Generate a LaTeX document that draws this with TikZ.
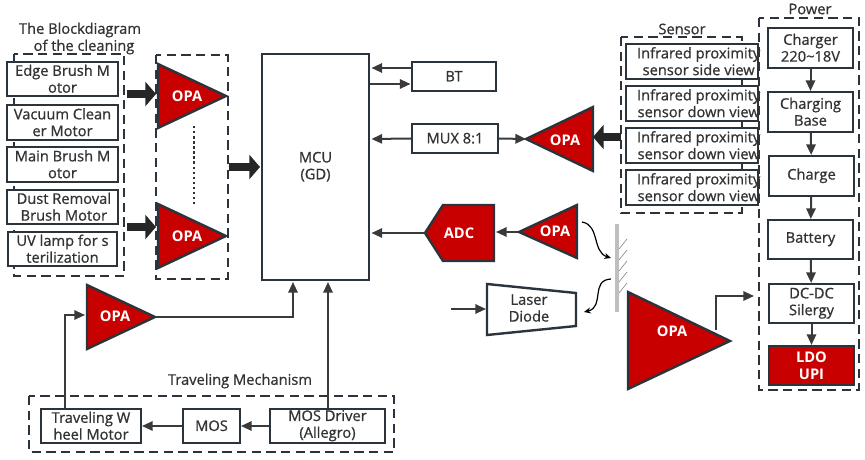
\documentclass[tikz,border=0pt]{standalone}
\usepackage{fontspec}
\setmainfont{Open Sans}
\newfontfamily\semib{Open Sans}[FakeBold=0.8]
\usetikzlibrary{arrows.meta,calc}
\definecolor{ln}{HTML}{2B343C}
\definecolor{txt}{HTML}{333333}
\definecolor{rd}{HTML}{C90000}
\definecolor{arr}{HTML}{3A3A3A}
\tikzset{
 x=0.75pt,y=-0.75pt,
 lbl/.style={font=\semib\fontsize{11}{12.6}\selectfont,text=txt,align=center,inner sep=0pt},
 wlbl/.style={font=\bfseries\fontsize{11}{12.6}\selectfont,text=white,align=center,inner sep=0pt},
 bx/.style={draw=ln,line width=1.8pt,fill=white},
 redshape/.style={draw=ln,line width=1.8pt,fill=rd},
 dash box/.style={draw=ln,line width=1.7pt,dash pattern=on 7pt off 4pt},
 link/.style={draw=arr,line width=1.5pt,-{Triangle[length=8pt,width=7pt]}},
 heavy/.style={draw=black!85,line width=6.5pt,-{Triangle[length=8pt,width=18pt]}},
 curved link/.style={black,line width=0.9pt,-{Stealth[length=5pt,width=4.5pt]}},
}
\newcommand{\pbox}[7][0]{\node[bx,minimum width=#5*0.75pt-#3*0.75pt-1.8pt,minimum height=#6*0.75pt-#4*0.75pt-1.8pt,anchor=center,label={[lbl,xshift=#1pt,yshift=0.2pt]center:{#7}}] (#2) at ({(#3+#5)/2},{(#4+#6)/2}) {};}
\begin{document}
\begin{tikzpicture}
\useasboundingbox (0,0) rectangle (865,460);
% dashed groups
\draw[dash box] (14,54) rectangle (124,276);
\draw[dash box] (156,55) rectangle (228,279);
\draw[dash box] (621,37) rectangle (742,213);
\draw[dash box] (759,18) rectangle (859,390);
\draw[dash box] (29,396) rectangle (394,452);
% titles
\node[lbl] (t1) at (80,30) {The Blockdiagram};
\node[lbl] (t2) at (84,47) {of the cleaning};
\node[lbl] (t3) at (682,29) {Sensor};
\node[lbl] (t4) at (810,9) {Power};
\node[lbl] (t5) at (240,381) {Traveling Mechanism};
% motors
\pbox{m1}{6}{61}{119}{97}{Edge Brush M\\otor}
\pbox{m2}{6}{104}{119}{141}{Vacuum Clean\\er Motor}
\pbox{m3}{6}{146}{119}{183}{Main Brush M\\otor}
\pbox[1]{m4}{6}{189}{119}{225}{Dust Removal\\ Brush Motor}
\pbox{m5}{7}{231}{118}{267}{UV lamp for s\\terilization}
% OPAs
\draw[redshape] (158,64) -- (158,128) -- (226,96) -- cycle;
\node[wlbl] (opa1) at (187,96) {OPA};
\draw[redshape] (158,204) -- (158,268) -- (226,236) -- cycle;
\node[wlbl] (opa2) at (187,236) {OPA};
\draw[ln,line width=1.8pt,dotted] (194,126) -- (194,205);
\coordinate (h1a) at (127,94); \coordinate (h1b) at (156,94);
\coordinate (h2a) at (127,227); \coordinate (h2b) at (156,227);
\coordinate (h3a) at (229,167); \coordinate (h3b) at (260,167);
\draw[heavy] (h1a) -- (h1b);
\draw[heavy] (h2a) -- (h2b);
\draw[heavy] (h3a) -- (h3b);
% MCU
\pbox{mcu}{261}{53}{370}{281}{MCU\\(GD)}
\pbox{bt}{411}{61}{497}{92}{BT}
\pbox{mux}{411}{123}{499}{154}{MUX 8:1}
\coordinate (mcuA) at (371.5,68); \coordinate (btA) at (411,68);
\coordinate (mcuB) at (370,84);   \coordinate (btB) at (410.5,84);
\coordinate (mcuC) at (371.5,139);
\coordinate (opa3tip) at (526,139);
\draw[link] (btA) -- (mcuA);
\draw[link] (mcuB) -- (btB);
\draw[link] (mux.west) -- (mcuC);
\draw[link] (mux.east) -- (opa3tip);
% right OPA
\draw[redshape] (526,139) -- (593,107) -- (593,171) -- cycle;
\node[wlbl] (opa3) at (565,140) {OPA};
\coordinate (h4a) at (621,137); \coordinate (h4b) at (593,137);
\draw[heavy] (h4a) -- (h4b);
% sensors
\pbox[5]{s1}{625}{43}{759}{80}{Infrared proximity\\ sensor side view}
\pbox[5]{s2}{625}{85}{759}{122}{Infrared proximity\\sensor down view}
\pbox[5]{s3}{625}{127}{759}{164}{Infrared proximity\\sensor down view}
\pbox[5]{s4}{625}{169}{759}{206}{Infrared proximity\\sensor down view}
% power
\pbox{p1}{767}{27}{854}{69}{Charger\\220\char`~18V}
\pbox{p2}{767}{91}{854}{133}{Charging\\Base}
\pbox{p3}{768}{155}{855}{197}{Charge}
\pbox{p4}{767}{219}{854}{260}{Battery}
\pbox{p5}{768}{283}{855}{324}{DC-DC\\Silergy}
\node[redshape,wlbl,minimum width=87*0.75pt-1.8pt,minimum height=41*0.75pt-1.8pt] (p6) at (811.5,365.5) {LDO\\UPI};
\draw[link] (p1) -- (p2);
\draw[link] (p2) -- (p3);
\draw[link] (p3) -- (p4);
\draw[link] (p4) -- (p5);
\draw[link] (p5) -- (p6);
% ADC
\draw[redshape] (425,233) -- (443,205) -- (494,205) -- (494,261) -- (443,261) -- cycle;
\node[wlbl] (adc) at (459,233) {ADC};
\draw[redshape] (519,232) -- (577,205) -- (577,258) -- cycle;
\node[wlbl] (opa4) at (555,231) {OPA};
\coordinate (opa4tip) at (518,232); \coordinate (adcR) at (496,232);
\coordinate (adcL) at (425,233); \coordinate (mcuD) at (371.5,233);
\draw[link] (opa4tip) -- (adcR);
\draw[link] (adcL) -- (mcuD);
% mirror
\fill[black!25] (615,224) rectangle (619,312);
\foreach \yy in {239,250,261,272,283}
  \draw[black!45,line width=0.5pt] (619,\yy+10) -- (627,\yy);
\coordinate (c1a) at (582,222); \coordinate (c1b) at (611,258);
\coordinate (c2a) at (611,279); \coordinate (c2b) at (584,312);
\draw[curved link] (c1a) .. controls (600,225) and (592,252) .. (c1b);
\draw[curved link] (c2a) .. controls (590,280) and (605,307) .. (c2b);
% laser
\draw[bx] (487,284) -- (576,293) -- (576,326) -- (487,335) -- cycle;
\node[lbl] (laser) at (529,308) {Laser\\Diode};
\coordinate (lin) at (451,309); \coordinate (lind) at (486,309);
\draw[link] (lin) -- (lind);
% big OPA
\draw[redshape] (628,292) -- (628,389) -- (730,341) -- cycle;
\node[wlbl] (opa5) at (672,331) {OPA};
\coordinate (o5a) at (716,330); \coordinate (o5b) at (754,296);
\draw[link] (o5a) |- (o5b);
% bottom OPA
\draw[redshape] (87,285) -- (87,349) -- (155,317) -- cycle;
\node[wlbl] (opa6) at (115,316) {OPA};
\coordinate (o6tip) at (155,317); \coordinate (o6in) at (85,315);
\coordinate (mcuE) at (293,282); \coordinate (mcuF) at (328,282);
\pbox{w}{40}{408}{142}{444}{Traveling W\\heel Motor}
\pbox{mos}{182}{408}{241}{444}{MOS}
\pbox{drv}{269}{408}{386}{444}{MOS Driver\\(Allegro)}
\draw[link] (drv.west) -- (mos.east);
\draw[link] (mos.west) -- (w.east);
\coordinate (drvT) at (328,408); \coordinate (wT) at (65,408);
\draw[link] (drvT) -- (mcuF);
\draw[link] (o6tip) -| (mcuE);
\draw[link] (wT) |- (o6in);
\end{tikzpicture}
\end{document}
